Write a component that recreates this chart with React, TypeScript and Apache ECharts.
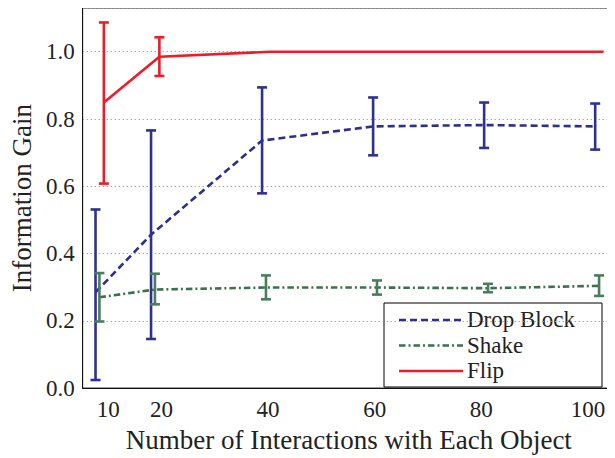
import React, { useEffect, useRef } from "react";
import * as echarts from "echarts";

// ---- data ----
const xValues = [10, 20, 40, 60, 80, 100];
const xTickLabels = [10, 20, 40, 60, 80, 100];
const yTickLabels = [0, 0.2, 0.4, 0.6, 0.8, 1.0];
const seriesNames = ["Drop Block", "Shake", "Flip"];

const dropMean = [0.285, 0.456, 0.736, 0.778, 0.782, 0.778];
const dropLow = [0.024, 0.146, 0.579, 0.692, 0.714, 0.709];
const dropHigh = [0.531, 0.766, 0.894, 0.864, 0.849, 0.846];

const shakeMean = [0.27, 0.293, 0.299, 0.299, 0.297, 0.304];
const shakeLow = [0.198, 0.249, 0.264, 0.278, 0.285, 0.274];
const shakeHigh = [0.342, 0.34, 0.335, 0.32, 0.31, 0.335];

const flipMean = [0.849, 0.985, 1.0, 1.0, 1.0, 1.0];
const flipLow = [0.608, 0.928, 1.0, 1.0, 1.0, 1.0];
const flipHigh = [1.087, 1.043, 1.0, 1.0, 1.0, 1.0];

// ---- styling ----
const FONT = "Liberation Serif";
const dodge = [0, 0.7, 1.5];
const lineColors = ["#2b2f8f", "#3d6f50", "#ee1c25"];
const barColors = ["#2e3192", "#4a7c5e", "#ee1c25"];
const dashes: (number[] | null)[] = [[7, 4], [6.5, 3, 2, 3], null];

const means = [dropMean, shakeMean, flipMean];
const lows = [dropLow, shakeLow, flipLow];
const highs = [dropHigh, shakeHigh, flipHigh];

export default function App() {
  const ref = useRef<HTMLDivElement>(null);
  useEffect(() => {
    if (!ref.current) return;
    const chart = echarts.init(ref.current, undefined, { renderer: "svg" });
    const series: any[] = [];
    seriesNames.forEach((name, i) => {
      series.push({
        name,
        type: "line",
        xAxisIndex: 0,
        yAxisIndex: 0,
        symbol: "none",
        z: 2 + i * 2,
        lineStyle: {
          color: lineColors[i],
          width: 2.6,
          type: dashes[i] ? dashes[i] : "solid",
        },
        data: xValues.map((x, k) => [x + dodge[i], means[i][k]]),
      });
      series.push({
        name: name + " error",
        type: "custom",
        xAxisIndex: 0,
        yAxisIndex: 0,
        z: 3 + i * 2,
        encode: { x: 0, y: [1, 2] },
        data: xValues.map((x, k) => [x + dodge[i], lows[i][k], highs[i][k]]),
        renderItem: (params: any, api: any) => {
          const x = api.value(0);
          const lo = api.value(1);
          const hi = api.value(2);
          if (hi - lo < 1e-6) return null;
          const t = api.coord([x, hi]);
          const b = api.coord([x, lo]);
          const style = { stroke: barColors[i], lineWidth: 2.6, fill: null };
          const hw = 5;
          return {
            type: "group",
            children: [
              { type: "line", shape: { x1: t[0], y1: t[1], x2: b[0], y2: b[1] }, style },
              { type: "line", shape: { x1: t[0] - hw, y1: t[1], x2: t[0] + hw, y2: t[1] }, style },
              { type: "line", shape: { x1: b[0] - hw, y1: b[1], x2: b[0] + hw, y2: b[1] }, style },
            ],
          };
        },
      });
    });

    const legendX = 384;
    const legendY = 303;
    const rowGap = 25.5;
    const legendChildren: any[] = [
      {
        type: "rect",
        shape: { x: legendX, y: legendY, width: 218, height: 84 },
        style: { fill: "#fff", stroke: "#000", lineWidth: 1 },
      },
    ];
    seriesNames.forEach((name, i) => {
      const y = legendY + 17 + i * rowGap;
      legendChildren.push({
        type: "line",
        shape: { x1: legendX + 15, y1: y, x2: legendX + 79, y2: y },
        style: {
          stroke: lineColors[i],
          lineWidth: 2.6,
          lineDash: dashes[i] ? dashes[i] : null,
        },
      });
      legendChildren.push({
        type: "text",
        x: legendX + 83,
        y: y - 12,
        style: {
          text: name,
          fontFamily: FONT,
          fontSize: 23,
          fill: "#222",
        },
      });
    });

    chart.setOption({
      animation: false,
      grid: {
        left: 80,
        right: -2,
        top: 8,
        bottom: 67,
        show: true,
        borderColor: "#111",
        borderWidth: 1,
        backgroundColor: "transparent",
        containLabel: false,
      },
      xAxis: [
        {
          type: "value",
          min: 7.68,
          max: 103.57,
          show: false,
        },
        {
          type: "value",
          min: 5.21,
          max: 105.08,
          position: "bottom",
          name: "Number of Interactions with Each Object",
          nameLocation: "middle",
          nameGap: 36,
          nameTextStyle: { fontFamily: FONT, fontSize: 27, color: "#222" },
          axisLine: { show: true, lineStyle: { color: "#111", width: 1 } },
          axisTick: { show: false },
          splitLine: { show: false },
          axisLabel: {
            customValues: xTickLabels,
            fontFamily: FONT,
            fontSize: 23,
            color: "#222",
            margin: 10,
          },
        },
      ],
      yAxis: [
        {
          type: "value",
          min: 0,
          max: 1.13,
          interval: 0.2,
          name: "Information Gain",
          nameLocation: "middle",
          nameGap: 43,
          nameTextStyle: { fontFamily: FONT, fontSize: 27, color: "#222" },
          axisLine: { show: true, lineStyle: { color: "#111", width: 1 } },
          axisTick: { show: false },
          splitLine: {
            show: true,
            lineStyle: { color: "#9a9a9a", width: 1.1, type: [1.2, 2.8] },
          },
          axisLabel: {
            customValues: yTickLabels,
            formatter: (v: number) => v.toFixed(1),
            fontFamily: FONT,
            fontSize: 23,
            color: "#222",
            margin: 8,
          },
        },
        {
          type: "value",
          min: 0,
          max: 1.13,
          interval: 0.2,
          position: "right",
          axisLine: { show: false },
          axisTick: { show: true, inside: true, length: 4, lineStyle: { color: "#333", width: 1.2 } },
          axisLabel: { show: false },
          splitLine: { show: false },
        },
      ],
      graphic: legendChildren,
      series,
    });
    return () => chart.dispose();
  }, []);
  return (
    <div style={{ margin: "-8px 0 0 -8px" }}>
      <div ref={ref} style={{ width: 615, height: 458 }} />
      <div style={{ fontFamily: FONT, fontSize: 23, color: "#fff" }}>0</div>
    </div>
  );
}
